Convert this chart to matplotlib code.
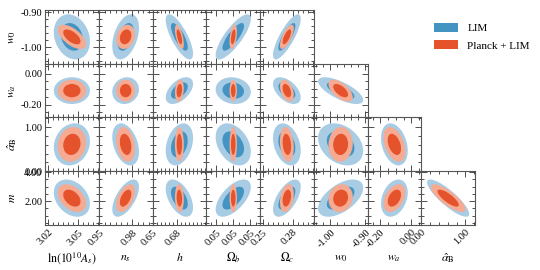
import numpy as np
import matplotlib
matplotlib.use("Agg")
import matplotlib.pyplot as plt
from matplotlib.patches import Ellipse, Patch
from matplotlib.ticker import FixedLocator, MultipleLocator

plt.rcParams['font.family'] = 'serif'
plt.rcParams['font.serif'] = ['Liberation Serif', 'DejaVu Serif']
plt.rcParams['mathtext.fontset'] = 'stix'

# ---- data -------------------------------------------------------------
param_labels = [r'$\ln(10^{10}A_s)$', r'$n_s$', r'$h$', r'$\Omega_b$', r'$\Omega_c$',
                r'$w_0$', r'$w_a$', r'$\hat{\alpha}_{\rm B}$', r'$m$']
param_mean = [3.044, 0.974, 0.683, 0.049, 0.274, -0.971, -0.109, 0.608, 2.214]
param_lo = [3.0171, 0.94957, 0.6494, 0.04662, 0.2471, -1.0478, -0.2824, -0.003, 0.360]
param_hi = [3.0709, 0.99843, 0.7166, 0.05136, 0.3009, -0.8942, 0.0644, 1.219, 4.068]
sigma_lim = [0.0073, 0.0049, 0.0069, 0.000626, 0.0056, 0.026, 0.0348, 0.193, 0.518]
sigma_plk = [0.0057, 0.00345, 0.00225, 0.000132, 0.0028, 0.014, 0.0284, 0.159, 0.386]
tick_values = [[3.02, 3.05], [0.95, 0.98], [0.65, 0.68], [0.0475, 0.049, 0.0505],
               [0.25, 0.28], [-1.0, -0.9], [-0.2, 0.0], [0.0, 1.0], [2.0, 4.0]]
tick_labels = [["3.02", "3.05"], ["0.95", "0.98"], ["0.65", "0.68"], ["0.05", "0.05", "0.05"],
               ["0.25", "0.28"], ["-1.00", "-0.90"], ["-0.20", "0.00"], ["0.00", "1.00"],
               ["2.00", "4.00"]]
minor_step = [0.005, 0.005, 0.005, 0.0005, 0.005, 0.02, 0.05, 0.2, 0.5]

row_params = [5, 6, 7, 8]
col_params = [0, 1, 2, 3, 4, 5, 6, 7]

rho_lim = [[-0.2, 0.4, -0.75, 0.8, 0.8],
           [0.0, 0.1, 0.5, -0.1, -0.5, -0.7],
           [0.15, -0.35, 0.3, -0.35, -0.3, -0.3, -0.3],
           [-0.3, 0.6, -0.5, 0.6, 0.6, 0.55, 0.3, -0.85]]
rho_plk = [[-0.6, 0.2, -0.6, 0.4, 0.7],
           [0.0, 0.0, 0.2, 0.0, -0.4, -0.6],
           [0.1, -0.25, 0.0, 0.0, -0.2, 0.05, -0.4],
           [-0.4, 0.5, -0.1, 0.0, 0.3, 0.1, 0.4, -0.8]]

levels = [2.48, 1.52]
series_names = ["LIM", "Planck + LIM"]
colors_lim = ['#a9cce5', '#4393c3']
colors_plk = ['#f5aa91', '#e5532d']

# ---- drawing ----------------------------------------------------------
W, H = 540, 270
fig = plt.figure(figsize=(W / 100, H / 100), dpi=100)

x0, y0, cell = 45.0, 10.0, 53.75


def add_ellipse(ax, mx, my, sx, sy, rho, k, color):
    cov = np.array([[sx * sx, rho * sx * sy], [rho * sx * sy, sy * sy]])
    vals, vecs = np.linalg.eigh(cov)
    angle = np.degrees(np.arctan2(vecs[1, 1], vecs[0, 1]))
    ax.add_patch(Ellipse((mx, my), 2 * k * np.sqrt(vals[1]), 2 * k * np.sqrt(vals[0]),
                         angle=angle, facecolor=color, edgecolor='none', zorder=1))


for r, py in enumerate(row_params):
    ncols = 5 + r
    for c in range(ncols):
        px = col_params[c]
        left = (x0 + c * cell) / W
        bottom = 1 - (y0 + (r + 1) * cell) / H
        ax = fig.add_axes([left, bottom, cell / W, cell / H])
        for sig, rho, cols in ((sigma_lim, rho_lim, colors_lim), (sigma_plk, rho_plk, colors_plk)):
            for k, col in zip(levels, cols):
                add_ellipse(ax, param_mean[px], param_mean[py], sig[px], sig[py],
                            rho[r][c], k, col)
        ax.set_xlim(param_lo[px], param_hi[px])
        ax.set_ylim(param_lo[py], param_hi[py])
        ax.xaxis.set_major_locator(FixedLocator(tick_values[px]))
        ax.yaxis.set_major_locator(FixedLocator(tick_values[py]))
        ax.xaxis.set_minor_locator(MultipleLocator(minor_step[px]))
        ax.yaxis.set_minor_locator(MultipleLocator(minor_step[py]))
        ax.tick_params(which='both', direction='in', top=True, right=True,
                       color='#333333', width=0.6, labelsize=7.5, pad=2)
        ax.tick_params(which='major', length=4)
        ax.tick_params(which='minor', length=2)
        for s in ax.spines.values():
            s.set_color('#555555')
            s.set_linewidth(0.8)
        if c == 0:
            ax.set_yticklabels(tick_labels[py])
        else:
            ax.set_yticklabels([])
        if r == len(row_params) - 1:
            ax.set_xticklabels(tick_labels[px], rotation=45, ha='right', va='top',
                               rotation_mode='anchor')
        else:
            ax.set_xticklabels([])

# axis labels
for r, py in enumerate(row_params):
    fig.text(12 / W, 1 - (y0 + (r + 0.5) * cell) / H, param_labels[py],
             rotation=90, ha='center', va='center', fontsize=8.5)
for c, px in enumerate(col_params):
    fig.text((x0 + (c + 0.5) * cell) / W, 1 - 258 / H, param_labels[px],
             ha='center', va='center', fontsize=8.5)

handles = [Patch(facecolor=colors_lim[1], edgecolor='none', label=series_names[0]),
           Patch(facecolor=colors_plk[1], edgecolor='none', label=series_names[1])]
fig.legend(handles=handles, loc='upper left', bbox_to_anchor=(424 / W, 1 - 13 / H),
           frameon=False, fontsize=8, handlelength=2.2, handleheight=0.9,
           labelspacing=0.6, handletextpad=0.8)

fig.savefig('out.png', dpi=100)
